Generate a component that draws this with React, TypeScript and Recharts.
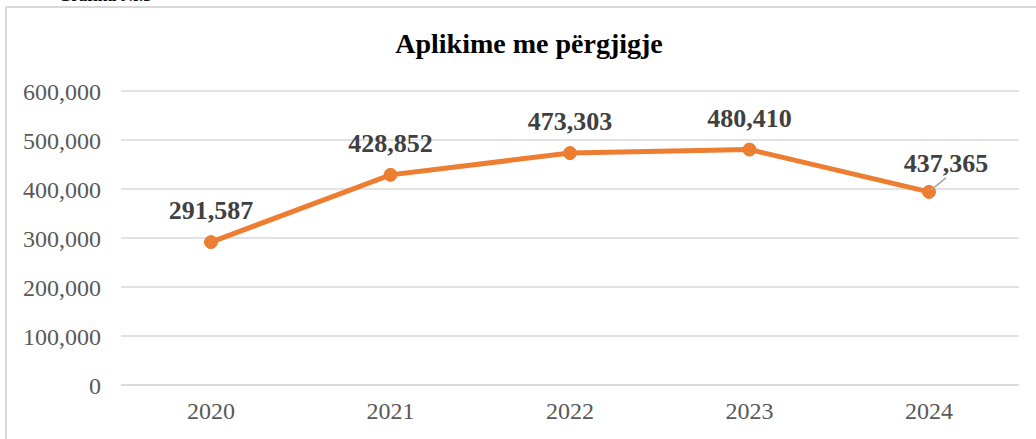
import { CartesianGrid, LabelList, Line, LineChart, XAxis, YAxis } from 'recharts'

const years = ['2020', '2021', '2022', '2023', '2024']
// plotted positions (2024 point sits lower than its printed label in the original)
const plotted = [291587, 428852, 473303, 480410, 394000]
const labelTexts = ['291,587', '428,852', '473,303', '480,410', '437,365']
const yTicks = [0, 100000, 200000, 300000, 400000, 500000, 600000]

const data = years.map((year, i) => ({ year, value: plotted[i], label: labelTexts[i] }))

const serif = '"Liberation Serif", "Times New Roman", serif'

function PointLabel(props: any) {
  const { x, y, index } = props
  const text = labelTexts[index]
  if (index === labelTexts.length - 1) {
    return (
      <g>
        <line x1={x + 2} y1={y - 2} x2={x + 17} y2={y - 14} stroke="#a6a6a6" strokeWidth={1.5} />
        <text x={x + 17} y={y - 20} textAnchor="middle" fontFamily={serif} fontWeight="bold" fontSize={26} fill="#404040">
          {text}
        </text>
      </g>
    )
  }
  return (
    <text x={x} y={y - 23} textAnchor="middle" fontFamily={serif} fontWeight="bold" fontSize={26} fill="#404040">
      {text}
    </text>
  )
}

export default function App() {
  return (
    <div style={{ position: 'fixed', left: 0, top: 0, width: 1036, height: 439, background: '#fff', overflow: 'hidden' }}>
      <div style={{ position: 'absolute', left: 58, top: -14, fontFamily: serif, fontWeight: 'bold', fontSize: 17, color: '#000' }}>
        Grafiku Nr.5
      </div>
      <div style={{ position: 'absolute', left: 5, top: 6, width: 1060, height: 460, border: '2px solid #d9d9d9', boxSizing: 'border-box' }} />
      <div style={{ position: 'absolute', left: 0, top: 28, width: 1058, textAlign: 'center', fontFamily: serif, fontWeight: 'bold', fontSize: 28, color: '#000' }}>
        Aplikime me përgjigje
      </div>
      <div style={{ position: 'absolute', left: 0, top: 0 }}>
        <LineChart width={1036} height={439} data={data} margin={{ top: 91, right: 17, bottom: 24, left: 0 }}>
          <CartesianGrid vertical={false} stroke="#d9d9d9" strokeWidth={1.5} />
          <XAxis
            dataKey="year"
            axisLine={{ stroke: '#d9d9d9', strokeWidth: 1.5 }}
            tickLine={false}
            padding={{ left: 90, right: 90 }}
            tickMargin={11}
            tick={{ fontFamily: serif, fontSize: 24, fill: '#595959' }}
          />
          <YAxis
            width={121}
            domain={[0, 600000]}
            ticks={yTicks}
            axisLine={false}
            tickLine={false}
            tickMargin={14}
            tickFormatter={(v: number) => v.toLocaleString('en-US')}
            tick={{ fontFamily: serif, fontSize: 24, fill: '#595959' }}
          />
          <Line
            type="linear"
            dataKey="value"
            stroke="#ed7d31"
            strokeWidth={5}
            dot={{ r: 6.5, fill: '#ed7d31', stroke: '#ed7d31', strokeWidth: 1 }}
            activeDot={false}
            isAnimationActive={false}
          >
            <LabelList dataKey="label" content={PointLabel} />
          </Line>
        </LineChart>
      </div>
    </div>
  )
}
